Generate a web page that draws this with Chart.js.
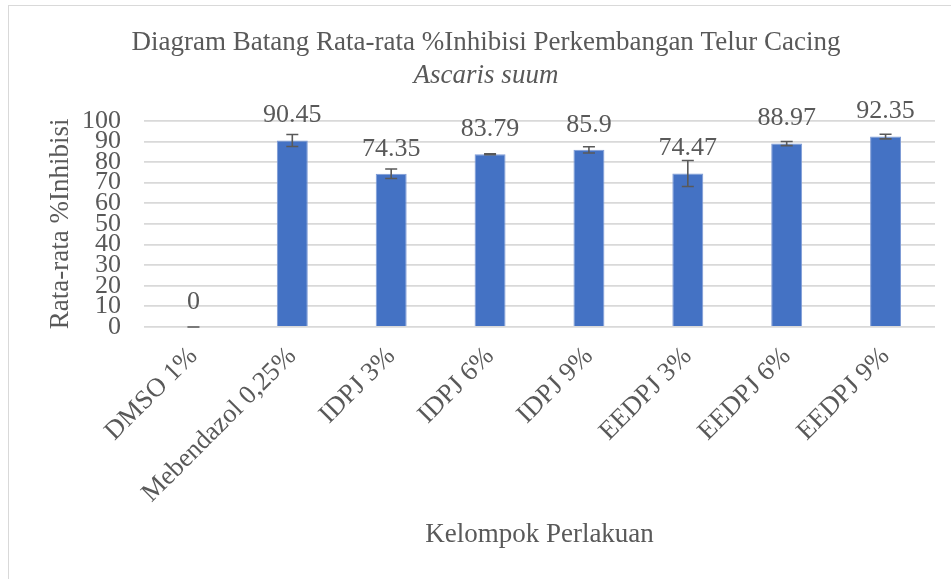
<!DOCTYPE html>
<html>
<head>
<meta charset="utf-8">
<script src="https://cdn.jsdelivr.net/npm/chart.js@4/dist/chart.umd.min.js"></script>
<style>
  html, body { margin: 0; padding: 0; background: #fff; overflow: hidden; }
  .frame {
    position: absolute; left: 8px; top: 5px; width: 1000px; height: 700px;
    border: 1.5px solid #d9d9d9; box-sizing: border-box;
  }
  .wrap { position: absolute; left: 0; top: 0; width: 951px; height: 579px; }
</style>
</head>
<body>
<div class="frame"></div>
<div class="wrap"><canvas id="barChart"></canvas></div>
<script>
const categories = ["DMSO 1%", "Mebendazol 0,25%", "IDPJ 3%", "IDPJ 6%", "IDPJ 9%", "EEDPJ 3%", "EEDPJ 6%", "EEDPJ 9%"];
const inhibisi = [0, 90.45, 74.35, 83.79, 85.9, 74.47, 88.97, 92.35];
const errors = [0, 2.9, 2.3, 0.2, 1.5, 6.3, 1.0, 1.1];
const yTicks = [0, 10, 20, 30, 40, 50, 60, 70, 80, 90, 100];

const serif = "'Liberation Serif', 'Times New Roman', serif";
const textColor = "#595959";

// error bars drawn on top of the bars
const errorBars = {
  id: "errorBars",
  afterDatasetsDraw(chart) {
    const ctx = chart.ctx;
    const y = chart.scales.y;
    const meta = chart.getDatasetMeta(0);
    ctx.save();
    ctx.strokeStyle = "#595959";
    ctx.lineWidth = 1.6;
    meta.data.forEach(function (bar, i) {
      const top = y.getPixelForValue(inhibisi[i] + errors[i]);
      const bot = y.getPixelForValue(inhibisi[i] - errors[i]);
      ctx.beginPath();
      ctx.moveTo(bar.x, top);
      ctx.lineTo(bar.x, bot);
      ctx.moveTo(bar.x - 6, top);
      ctx.lineTo(bar.x + 6, top);
      ctx.moveTo(bar.x - 6, bot);
      ctx.lineTo(bar.x + 6, bot);
      ctx.stroke();
    });
    ctx.restore();
  },
};

// value labels above each bar
const valueLabels = {
  id: "valueLabels",
  afterDatasetsDraw(chart) {
    const ctx = chart.ctx;
    const meta = chart.getDatasetMeta(0);
    ctx.save();
    ctx.font = "26px " + serif;
    ctx.fillStyle = textColor;
    ctx.textAlign = "center";
    ctx.textBaseline = "middle";
    meta.data.forEach(function (bar, i) {
      ctx.fillText(String(inhibisi[i]), bar.x, bar.y - 25);
    });
    ctx.restore();
  },
};

const ctx = document.getElementById("barChart").getContext("2d");
new Chart(ctx, {
  type: "bar",
  data: {
    labels: categories,
    datasets: [
      {
        data: inhibisi,
        backgroundColor: "#4472c4",
        borderColor: "#7e9bd6",
        borderWidth: 1,
        categoryPercentage: 1,
        barPercentage: 0.313,
      },
    ],
  },
  options: {
    responsive: true,
    maintainAspectRatio: false,
    animation: false,
    layout: { padding: { left: 37, right: 16, top: 5, bottom: 0 } },
    plugins: {
      legend: { display: false },
      tooltip: { enabled: false },
      title: {
        display: true,
        text: "Diagram Batang Rata-rata %Inhibisi Perkembangan Telur Cacing",
        color: textColor,
        font: { family: serif, size: 27, weight: "normal" },
        padding: { top: 22, bottom: 0 },
      },
      subtitle: {
        display: true,
        text: "Ascaris suum",
        color: textColor,
        font: { family: serif, size: 27, style: "italic", weight: "normal" },
        padding: { top: 0, bottom: 29 },
      },
    },
    scales: {
      x: {
        grid: { display: false, drawTicks: false },
        border: { display: false },
        ticks: {
          color: textColor,
          font: { family: serif, size: 26.5 },
          autoSkip: false,
          maxRotation: 45,
          minRotation: 45,
          padding: 14,
        },
        title: {
          display: true,
          text: "Kelompok Perlakuan",
          color: textColor,
          font: { family: serif, size: 27 },
          padding: { top: 0, bottom: 28 },
        },
        afterFit: function (scale) {
          scale.height = 252;
        },
      },
      y: {
        min: 0,
        max: 100,
        grid: { color: "#d9d9d9", lineWidth: 1.8, drawTicks: false },
        border: { display: false },
        afterBuildTicks: function (scale) {
          scale.ticks = yTicks.map(function (v) { return { value: v }; });
        },
        ticks: {
          color: textColor,
          font: { family: serif, size: 26, lineHeight: 1 },
          autoSkip: false,
          padding: 23,
        },
        title: {
          display: true,
          text: "Rata-rata %Inhibisi",
          color: textColor,
          font: { family: serif, size: 27 },
          padding: { top: 8, bottom: 0 },
        },
        afterFit: function (scale) {
          scale.width = 107;
        },
      },
    },
  },
  plugins: [errorBars, valueLabels],
});
</script>
</body>
</html>
